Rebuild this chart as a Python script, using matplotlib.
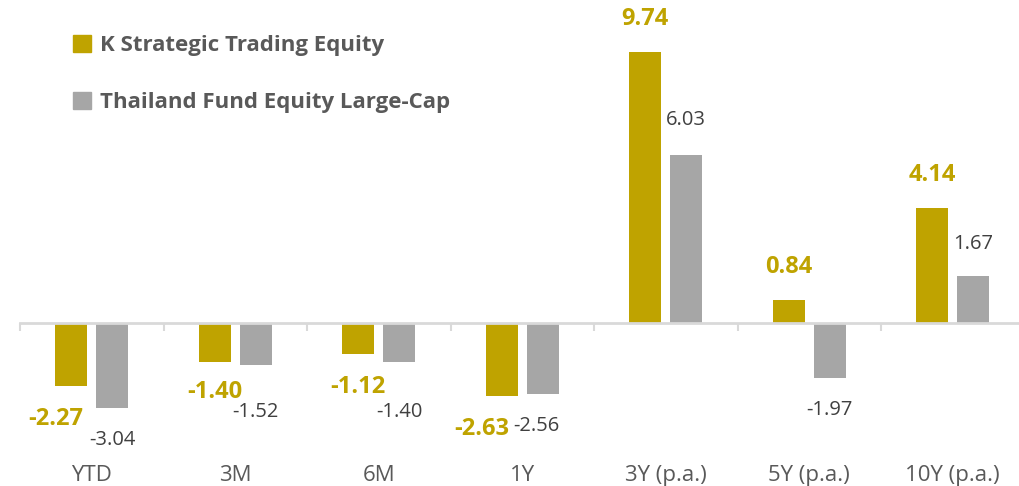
import numpy as np
import matplotlib
matplotlib.use("Agg")
import matplotlib.pyplot as plt
from matplotlib.patches import Patch

# data
periods = ["YTD", "3M", "6M", "1Y", "3Y (p.a.)", "5Y (p.a.)", "10Y (p.a.)"]
fund_name = "K Strategic Trading Equity"
bench_name = "Thailand Fund Equity Large-Cap"
fund = [-2.27, -1.40, -1.12, -2.63, 9.74, 0.84, 4.14]
bench = [-3.04, -1.52, -1.40, -2.56, 6.03, -1.97, 1.67]

gold = "#BFA300"
grey = "#A6A6A6"
text_grey = "#595959"
num_grey = "#404040"
line_grey = "#D9D9D9"

plt.rcParams["font.family"] = ["Open Sans", "DejaVu Sans"]

fig = plt.figure(figsize=(10.19, 4.86), dpi=100)
W, H = 1019, 486
ax = fig.add_axes([20 / W, 0, 1004.5 / W, 1])

x = np.arange(len(periods))
width = 0.223
off = 0.143
ax.bar(x - off, fund, width, color=gold, zorder=2)
ax.bar(x + off, bench, width, color=grey, zorder=2)

ax.set_xlim(-0.5, len(periods) - 0.5)
ax.set_ylim(-163 / 27.85, 323 / 27.85)

# zero line with small category separators
for s in ["top", "right", "left"]:
    ax.spines[s].set_visible(False)
ax.spines["bottom"].set_position(("data", 0))
ax.spines["bottom"].set_color(line_grey)
ax.spines["bottom"].set_linewidth(2)
ax.set_yticks([])
ax.set_xticks(x)
ax.set_xticklabels(periods, fontsize=16, color=text_grey)
ax.tick_params(axis="x", which="major", length=0, pad=102)
ax.set_xticks(np.arange(-0.5, len(periods), 1.0), minor=True)
ax.tick_params(axis="x", which="minor", length=6, width=1.5, color=line_grey)

# value labels, nudges in pixels to keep them apart
nudge_fund = {0: (-15, 0), 1: (0, 3), 3: (-20, 0)}
nudge_bench = {1: (0, -15), 2: (0, -18), 3: (-6, 0), 4: (0, 3)}
px = 0.72
for i, v in enumerate(fund):
    dx, dy = nudge_fund.get(i, (0, 0))
    sign = 1 if v >= 0 else -1
    ax.annotate(f"{v:.2f}", (x[i] - off, v), xytext=(dx * px, (sign * 33 + dy) * px),
                textcoords="offset points", ha="center", va="center",
                fontsize=17, fontweight="bold", color=gold)
for i, v in enumerate(bench):
    dx, dy = nudge_bench.get(i, (0, 0))
    sign = 1 if v >= 0 else -1
    ax.annotate(f"{v:.2f}", (x[i] + off, v), xytext=(dx * px, (sign * 32 + dy) * px),
                textcoords="offset points", ha="center", va="center",
                fontsize=14.5, color=num_grey)

handles = [Patch(color=gold), Patch(color=grey)]
leg = fig.legend(handles, [fund_name, bench_name], loc="upper left",
                 bbox_to_anchor=(53 / W, 1 - 15 / H), frameon=False,
                 handlelength=0.8, handleheight=0.8, handletextpad=0.4,
                 labelspacing=1.6, prop={"size": 16, "weight": "bold"})
for t in leg.get_texts():
    t.set_color(text_grey)

fig.savefig("out.png", dpi=100)
